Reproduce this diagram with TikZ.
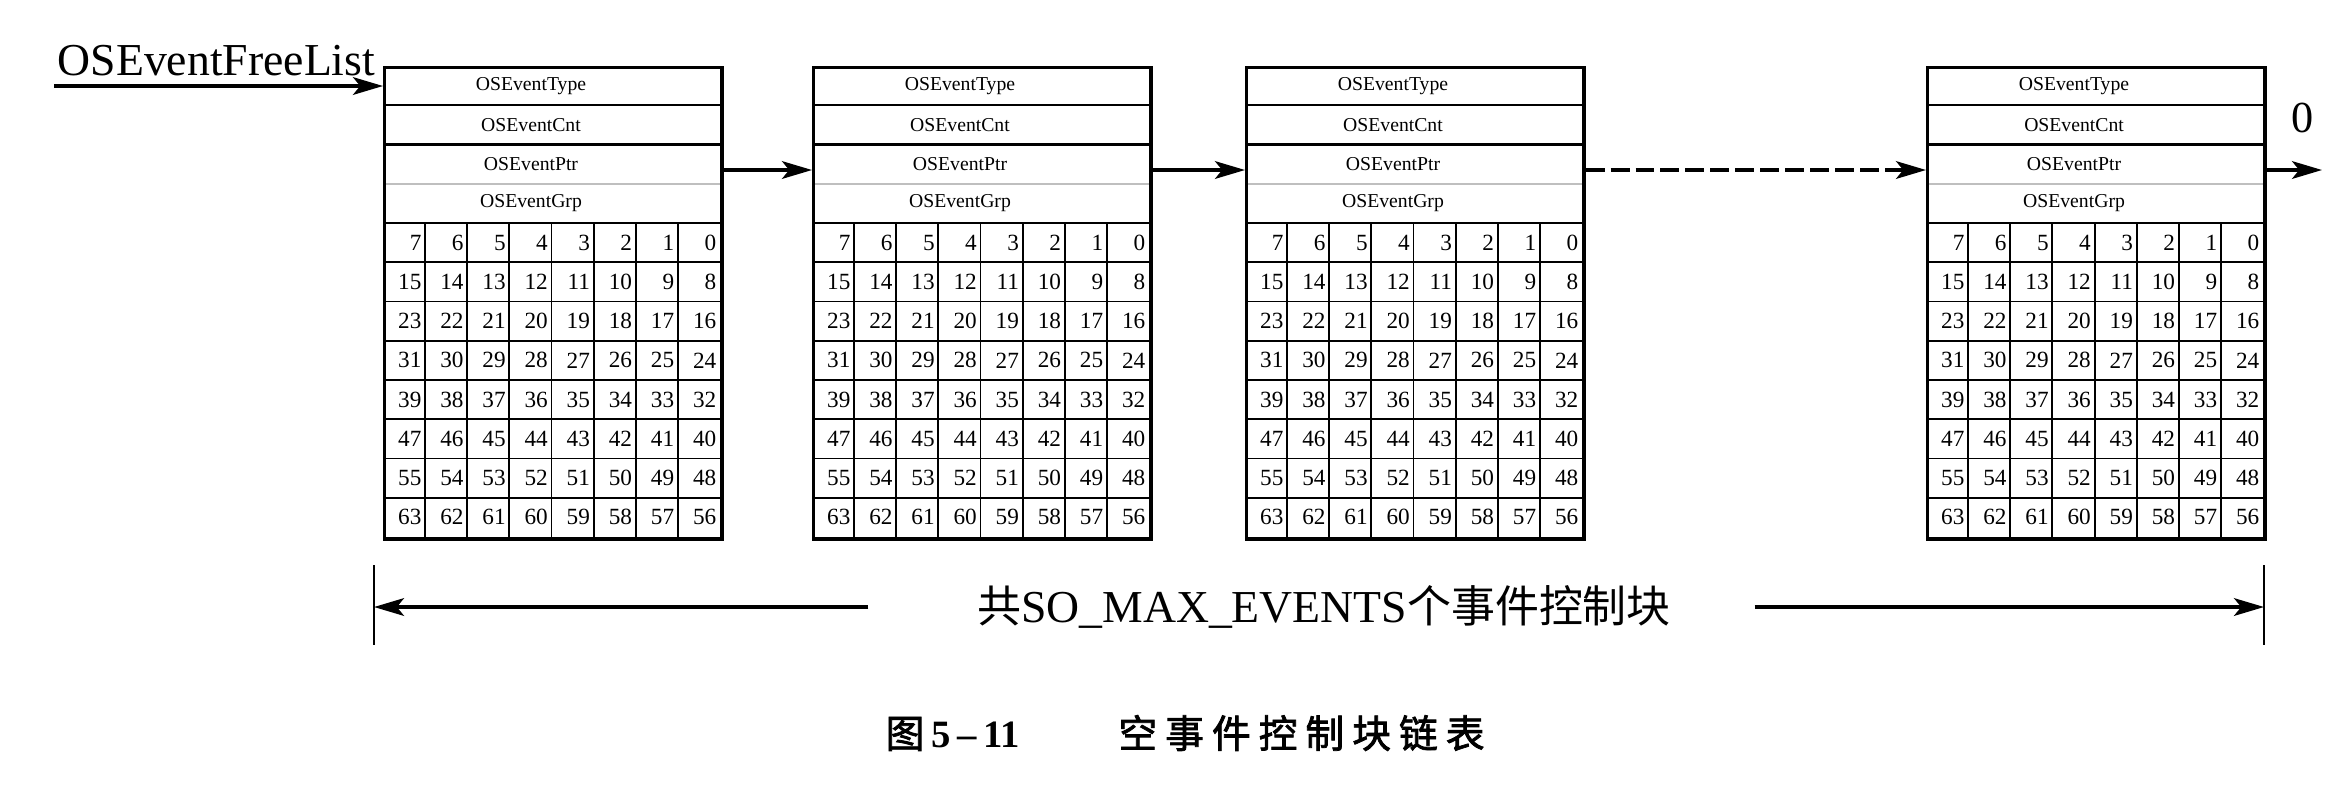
\documentclass[tikz,border=0pt]{standalone}
\usepackage{fontspec}
\setmainfont{Liberation Serif}
\newfontfamily\cjk{Noto Sans CJK SC}
\newfontfamily\cjkb[FakeBold=2]{Noto Sans CJK SC}
\usetikzlibrary{arrows.meta,calc}
\tikzset{
  blk/.style={draw, line width=0.95pt, minimum width=3.37cm, minimum height=4.71cm, inner sep=0pt, anchor=north west},
  sepline/.style={line width=0.6pt},
  lightsep/.style={line width=0.5pt, black!25},
  gridline/.style={line width=0.55pt},
  hdr/.style={font=\fontsize{5.6}{7}\selectfont, inner sep=0pt},
  cell/.style={font=\fontsize{6.6}{7}\selectfont, anchor=east, inner sep=0pt},
  arr/.style={line width=1.1pt, -{Stealth[length=8.5pt,width=5pt,inset=2pt]}},
  tick/.style={line width=0.5pt},
}
\begin{document}
\begin{tikzpicture}[x=0.01cm,y=-0.01cm]
\useasboundingbox (0,0) rectangle (2337,805);
% blocks
\foreach \L [count=\i] in {383,812,1245,1926} {
  \foreach \k in {1,2,4} \draw[sepline] (\L,{66+39.25*\k}) -- ({\L+337},{66+39.25*\k});
  \draw[lightsep] (\L,{66+39.25*3}) -- ({\L+337},{66+39.25*3});
  \foreach \t [count=\k] in {OSEventType,OSEventCnt,OSEventPtr,OSEventGrp}
    \node[hdr] (h\i-\k) at ({\L+148},{66+39.25*(\k-0.5)}) {\t};
  \foreach \r in {1,...,7} \draw[gridline] (\L,{66+39.25*(4+\r)}) -- ({\L+337},{66+39.25*(4+\r)});
  \foreach \c in {1,...,7} \draw[gridline] ({\L+42.125*\c},{66+39.25*4}) -- ({\L+42.125*\c},537);
  \foreach \r in {0,...,7} \foreach \c in {0,...,7} {
    \pgfmathtruncatemacro\v{8*\r+7-\c}
    \node[cell] (n\i-\r-\c) at ({\L+42.125*(\c+1)-3},{66+39.25*(4.5+\r)}) {\v};
  }
  \node[blk] (b\i) at (\L,66) {};
}
% list head
\node[anchor=base west, inner sep=0pt, font=\fontsize{13}{15}\selectfont] (fl) at (57,75) {OSEventFreeList};
\coordinate (fls) at (54,86);
\draw[arr] (fls) -- (b1.west |- fls);
% links
\coordinate (ya) at (0,170);
\draw[arr] (b1.east |- ya) -- (b2.west |- ya);
\draw[arr] (b2.east |- ya) -- (b3.west |- ya);
\draw[arr, dash pattern=on 5.4pt off 1.7pt] (b3.east |- ya) -- (b4.west |- ya);
\coordinate (nul) at (2322,170);
\draw[arr] (b4.east |- ya) -- (nul);
\node[font=\fontsize{12.6}{15}\selectfont, inner sep=0pt] (zero) at (2303,118) {0};
% dimension
\coordinate (tl1) at (374,565); \coordinate (tl2) at (374,645);
\coordinate (tr1) at (2264,565); \coordinate (tr2) at (2264,645);
\draw[tick] (tl1) -- (tl2);
\draw[tick] (tr1) -- (tr2);
\node[inner sep=0pt, font=\fontsize{13}{15}\selectfont] (dim) at (1324,607)
  {{\cjk\fontsize{12.5}{14}\selectfont 共}SO\_MAX\_EVENTS{\cjk\fontsize{12.5}{14}\selectfont 个事件控制块}};
\draw[arr] ([xshift=-1.08cm]dim.west) -- (dim.west -| tl1);
\draw[arr] ([xshift=0.83cm]dim.east) -- (dim.east -| tr1);
% caption
\node[inner sep=0pt, anchor=west, font=\fontsize{11}{13}\selectfont] (cap) at (885,733)
  {{\cjkb 图}\kern2pt{\bfseries 5\kern1.8pt–\kern2pt11}\kern28pt{\cjkb 空\kern2.3pt事\kern2.3pt件\kern2.3pt控\kern2.3pt制\kern2.3pt块\kern2.3pt链\kern2.3pt表}};
\end{tikzpicture}
\end{document}
